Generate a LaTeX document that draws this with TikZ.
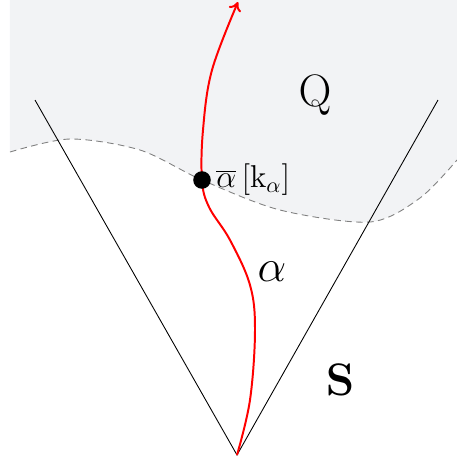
\documentclass[tikz,border=0pt]{standalone}
\usetikzlibrary{arrows.meta}
\definecolor{qgray}{RGB}{242,243,245}

\begin{document}
\begin{tikzpicture}[x=0.016cm,y=-0.016cm,>={To[length=4pt,width=6pt]}]
  \useasboundingbox (0,0) rectangle (457,462);
  \def\wave{(10,152) (70,139) (140,150) (202,180) (280,210) (370,222) (420,198) (457,160)}
  \fill[qgray] (10,0) -- plot[smooth] coordinates {\wave} -- (457,0) -- cycle;
  \draw[dashed,gray,thin,dash pattern=on 3pt off 2pt] plot[smooth] coordinates {\wave};

  \coordinate (apex) at (237,455);
  \coordinate (lt) at (35,100);
  \coordinate (rt) at (438,100);
  \draw[thin] (lt) -- (apex) -- (rt);

  \draw[->,red,line width=0.9pt] plot[smooth,tension=0.6] coordinates {(237,455) (250,400) (255,330) (250,285) (230,240) (209,207) (202,180) (203,130) (212,70) (238,2)};
  \fill (202,180) circle (4pt) node[anchor=west,xshift=3pt] (cut) {\Large$\overline{\alpha}\,[\mathrm{k}_\alpha]$};

  \node[font=\huge] (q) at (315,95) {$\mathrm{Q}$};
  \node[font=\huge] (al) at (272,272) {$\alpha$};
  \node[font=\huge] (s) at (340,380) {$\mathbf{S}$};
\end{tikzpicture}
\end{document}
